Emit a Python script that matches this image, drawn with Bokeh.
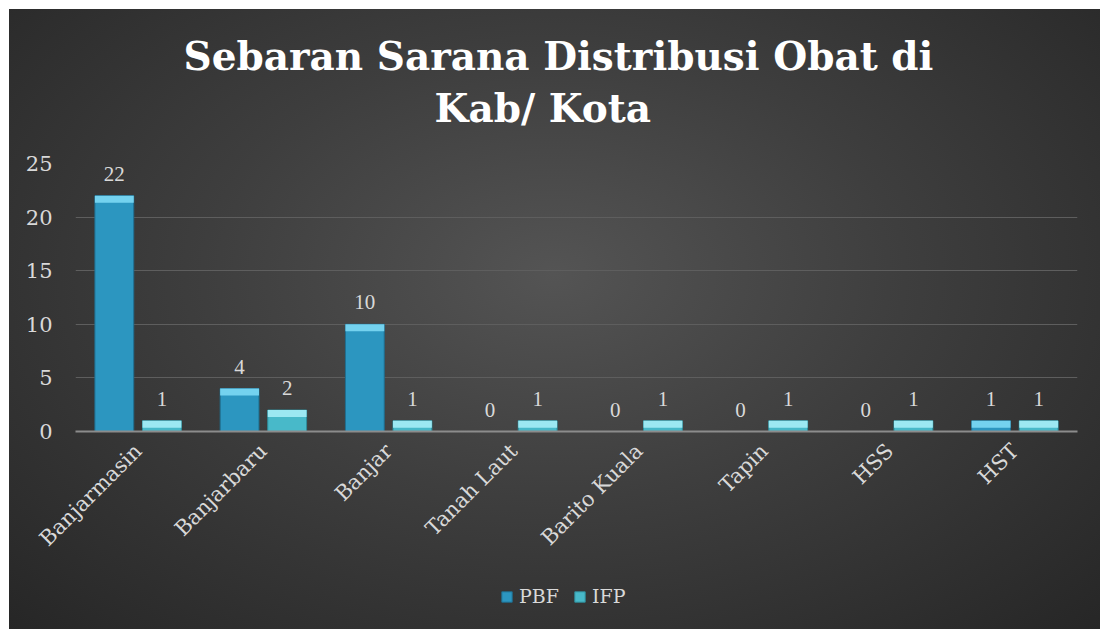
import math
from bokeh.plotting import figure
from bokeh.models import ColumnDataSource, Range1d, FixedTicker, LabelSet, Legend, LegendItem, Title
from bokeh.transform import dodge
from bokeh.embed import file_html
from bokeh.resources import INLINE

categories = ["Banjarmasin", "Banjarbaru", "Banjar", "Tanah Laut", "Barito Kuala", "Tapin", "HSS", "HST"]
pbf = [22, 4, 10, 0, 0, 0, 0, 1]
ifp = [1, 2, 1, 1, 1, 1, 1, 1]
y_ticks = [0, 5, 10, 15, 20, 25]

BEVEL = 0.65
src = ColumnDataSource(dict(
    cat=categories,
    pbf=pbf,
    ifp=ifp,
    pbf_bev=[max(v - BEVEL, 0) for v in pbf],
    ifp_bev=[max(v - BEVEL, 0) for v in ifp],
    pbf_lbl=[str(v) for v in pbf],
    ifp_lbl=[str(v) for v in ifp],
))

FONT = "DejaVu Serif"
TXT = "#d9d9d9"

p = figure(x_range=categories, y_range=Range1d(0, 25),
           frame_width=1002, frame_height=268,
           output_backend="svg", toolbar_location=None,
           min_border_left=66, min_border_right=23, min_border_top=154, min_border_bottom=198)

p.background_fill_color = None
p.border_fill_color = None
p.outline_line_color = None
p.styles = {
    "background": "radial-gradient(ellipse 780px 500px at 545px 265px, #545454 0%, #3e3e3e 45%, #262626 100%)",
    "margin-left": "9px",
    "margin-top": "9px",
    "padding-bottom": "40px",
}

# title (two lines); a blank spacer title keeps the gap to the plot area
def style_title(t, off):
    t.align = "left"
    t.offset = off
    t.text_font = FONT
    t.text_font_style = "bold"
    t.text_font_size = "39px"
    t.text_color = "#ffffff"

p.title.text = "Sebaran Sarana Distribusi Obat di"
style_title(p.title, 108)
p.title.standoff = 0
spacer = Title(text=" ", text_font_size="1px", standoff=26)
p.add_layout(spacer, "above")
t2 = Title(text="Kab/ Kota")
style_title(t2, 359)
t2.standoff = 8
p.add_layout(t2, "above")

# grid / axes
p.xgrid.grid_line_color = None
p.ygrid.grid_line_color = "#5e5e5e"
p.ygrid.grid_line_width = 1
p.yaxis.ticker = FixedTicker(ticks=y_ticks)
p.yaxis.axis_line_color = None
p.yaxis.major_tick_line_color = None
p.yaxis.minor_tick_line_color = None
p.yaxis.major_label_standoff = 17
p.yaxis.major_label_text_font = FONT
p.yaxis.major_label_text_font_size = "21px"
p.yaxis.major_label_text_color = TXT

p.xaxis.axis_line_color = "#8c8c8c"
p.xaxis.axis_line_width = 2
p.xaxis.major_tick_line_color = None
p.xaxis.minor_tick_line_color = None
p.xaxis.major_label_orientation = math.pi / 4
p.xaxis.major_label_standoff = 10
p.xaxis.major_label_text_font = FONT
p.xaxis.major_label_text_font_size = "21px"
p.xaxis.major_label_text_color = TXT

W = 0.31
xp = dodge("cat", -0.19, range=p.x_range)
xi = dodge("cat", 0.19, range=p.x_range)

r_pbf = p.vbar(x=xp, top="pbf", bottom=0, width=W, source=src,
               fill_color="#2c96c0", line_color="#1f6f90", line_width=1)
p.vbar(x=xp, top="pbf", bottom="pbf_bev", width=W, source=src,
       fill_color="#74d2ef", line_color=None)
r_ifp = p.vbar(x=xi, top="ifp", bottom=0, width=W, source=src,
               fill_color="#48b9c9", line_color="#2f8e9c", line_width=1)
p.vbar(x=xi, top="ifp", bottom="ifp_bev", width=W, source=src,
       fill_color="#9ce8f2", line_color=None)

for xs, col in ((xp, "pbf"), (xi, "ifp")):
    p.add_layout(LabelSet(x=xs, y=col, text=col + "_lbl", source=src,
                          y_offset=15, text_align="center", text_baseline="bottom",
                          text_font=FONT, text_font_size="21px",
                          text_color=TXT))

# legend sits in the right-hand panel and is shifted under the category labels
legend = Legend(items=[LegendItem(label="PBF", renderers=[r_pbf]),
                       LegendItem(label="IFP", renderers=[r_ifp])],
                orientation="horizontal", location=(-577, -176),
                background_fill_alpha=0, border_line_color=None,
                label_text_font=FONT, label_text_font_size="19px",
                label_text_color=TXT, glyph_width=13, glyph_height=13,
                label_height=20, spacing=14, label_standoff=6, margin=0, padding=0)
p.add_layout(legend, "right")

open("out.html", "w").write(file_html(p, INLINE))
